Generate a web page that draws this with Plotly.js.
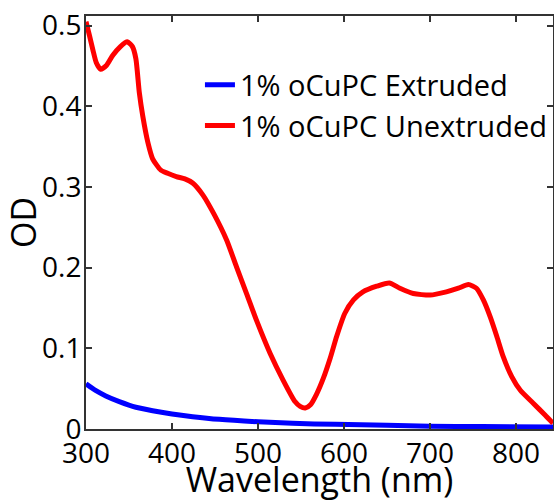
<!DOCTYPE html>
<html>
<head>
<meta charset="utf-8">
<script src="https://cdn.plot.ly/plotly-3.0.1.min.js"></script>
<style>html,body{margin:0;padding:0;background:#fff;}#chart{width:554px;height:502px;}</style>
</head>
<body>
<div id="chart"></div>
<script>
// Series: 1% oCuPC Extruded (blue)
const extrudedX = [300, 311.6, 323, 338.7, 358, 377.5, 400, 424, 455, 500, 540, 590, 650, 700, 760, 843];
const extrudedY = [0.056, 0.0475, 0.041, 0.034, 0.027, 0.0227, 0.0186, 0.0153, 0.012, 0.009, 0.007, 0.0058, 0.0045, 0.0035, 0.003, 0.0025];

// Series: 1% oCuPC Unextruded (red)
const unextrudedX = [300, 304, 308, 312, 317, 324, 331, 340, 348, 354, 358, 362, 366, 372, 377.5, 387, 395, 405, 415, 424, 436, 449, 463.6, 475, 487, 498.5, 514, 529, 543, 549, 555, 561, 568, 576, 584, 591.5, 601, 611, 622, 638, 652.7, 665, 680.6, 700, 719, 733, 744.6, 754, 762, 770, 777.6, 785, 795, 805, 820, 834, 843];
const unextrudedY = [0.505, 0.488, 0.470, 0.454, 0.446, 0.451, 0.463, 0.474, 0.480, 0.474, 0.459, 0.417, 0.388, 0.355, 0.335, 0.321, 0.317, 0.313, 0.310, 0.305, 0.290, 0.266, 0.234, 0.201, 0.167, 0.134, 0.094, 0.061, 0.034, 0.028, 0.026, 0.030, 0.043, 0.063, 0.088, 0.115, 0.1435, 0.160, 0.170, 0.177, 0.181, 0.1745, 0.168, 0.166, 0.170, 0.1745, 0.179, 0.1745, 0.160, 0.139, 0.115, 0.090, 0.065, 0.048, 0.032, 0.017, 0.007];

const seriesNames = ["1% oCuPC Extruded", "1% oCuPC Unextruded"];
const xTicks = [300, 400, 500, 600, 700, 800];
const yTicks = [0, 0.1, 0.2, 0.3, 0.4, 0.5];
const yTickLabels = ["0", "0.1", "0.2", "0.3", "0.4", "0.5"];

const FONT = "Open Sans, Arial, sans-serif";

const traces = [
  {x: extrudedX, y: extrudedY, name: seriesNames[0], type: "scatter", mode: "lines",
   line: {color: "#0000ff", width: 5, shape: "spline", smoothing: 0.6}},
  {x: unextrudedX, y: unextrudedY, name: seriesNames[1], type: "scatter", mode: "lines",
   line: {color: "#ff0000", width: 5, shape: "spline", smoothing: 0.6}}
];

const axisCommon = {
  showline: true, mirror: "ticks", linecolor: "#333333", linewidth: 2,
  ticks: "inside", ticklen: 6, tickwidth: 2, tickcolor: "#333333",
  showgrid: false, zeroline: false,
  tickfont: {family: FONT, size: 28, color: "#000"}
};

const layout = {
  width: 554, height: 502,
  margin: {l: 86, r: 1, t: 16, b: 73},
  paper_bgcolor: "#fff", plot_bgcolor: "#fff",
  font: {family: FONT, color: "#000"},
  showlegend: true,
  legend: {x: 0.244, xanchor: "left", y: 0.895, yanchor: "top",
           bgcolor: "rgba(0,0,0,0)", borderwidth: 0,
           font: {family: FONT, size: 29, color: "#000"}, itemwidth: 30},
  xaxis: Object.assign({}, axisCommon, {
    range: [300, 843], tickvals: xTicks, ticktext: xTicks.map(String),
    ticklabelstandoff: -2,
    title: {text: "Wavelength (nm)", font: {family: FONT, size: 34, color: "#000"}, standoff: 12}
  }),
  yaxis: Object.assign({}, axisCommon, {
    range: [0, 0.512], tickvals: yTicks, ticktext: yTickLabels,
    ticklabelstandoff: -3,
    title: {text: "OD", font: {family: FONT, size: 34, color: "#000"}, standoff: 8}
  })
};

Plotly.newPlot("chart", traces, layout, {displayModeBar: false, staticPlot: true});
</script>
</body>
</html>
